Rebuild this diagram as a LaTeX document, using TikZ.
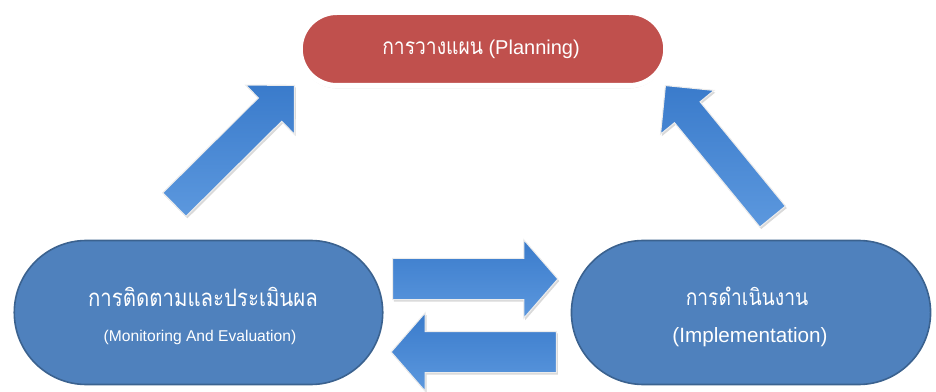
\documentclass[tikz,border=0pt]{standalone}
\usepackage{fontspec}
\setmainfont{Liberation Sans}
\newfontfamily\thaifont[Script=Thai, FakeStretch=0.85]{Loma}
\usepackage{tikz}
\usetikzlibrary{positioning}
\usetikzlibrary{shapes.misc,shapes.arrows,shadows}

\definecolor{planred}{HTML}{C0504D}
\definecolor{phaseblue}{HTML}{4F81BD}
\definecolor{phaseline}{HTML}{3B628F}
\definecolor{arrowdark}{HTML}{3A7BCB}
\definecolor{arrowlight}{HTML}{5C98DE}

\begin{document}
\begin{tikzpicture}[x=0.75pt,y=-0.75pt,
		planbox/.style={rounded rectangle, fill=planred, draw=white, line width=4pt, minimum width=281pt, minimum height=55pt, drop shadow={opacity=0.3, shadow xshift=0pt, shadow yshift=-2pt}},
		phasebox/.style={rounded rectangle, fill=phaseblue, draw=phaseline, line width=1.2pt, minimum height=108pt},
		boxtext/.style={text=white, inner sep=0pt},
		blockarrow/.style={single arrow, draw=white!85!gray, line width=0.8pt, top color=arrowdark, middle color=arrowdark!92!black, bottom color=arrowlight, inner xsep=0pt, anchor=tail, drop shadow={opacity=0.3, shadow xshift=1pt, shadow yshift=-1.5pt}},
		diagarrow/.style={blockarrow, minimum height=127pt, inner ysep=12pt, single arrow head extend=13.5pt},
		flatarrow/.style={blockarrow, minimum height=124pt, inner ysep=15pt, single arrow head extend=14pt, single arrow tip angle=98}]
		\useasboundingbox (0,0) rectangle (936,392);
		%\draw[thin, gray!25] (0,0) grid[step=50] (936,392);
		\node[planbox] (plan) at (483,49) {};
		\node[phasebox, minimum width=283pt] (monitor) at (198.5,312.5) {};
		\node[phasebox, minimum width=276pt] (implement) at (751,312.5) {};
		% labels
		\node[boxtext] (plantext) at (481,49) {\fontsize{15}{18}\selectfont{\fontsize{17}{18}\selectfont\thaifont การวางแผน} (Planning)};
		\node[boxtext] (monthai) at (203,297) {\fontsize{18}{21}\selectfont\thaifont การติดตามและประเมินผล};
		\node[boxtext] (moneng) at (200,337) {\fontsize{11.7}{14}\selectfont (Monitoring And Evaluation)};
		\node[boxtext] (impthai) at (747,296) {\fontsize{17}{20}\selectfont\thaifont การดำเนินงาน};
		\node[boxtext] (impeng) at (750,337) {\fontsize{15.5}{18}\selectfont (Implementation)};
		% arrows
		\node[diagarrow, rotate=44.8] (toplan1) at (174,205) {};
		\node[diagarrow, rotate=129.3] (toplan2) at (773,217) {};
		\node[flatarrow] (toimp) at (392,279) {};
		\node[flatarrow, rotate=180] (tomon) at (557,352) {};
	\end{tikzpicture}
\end{document}
